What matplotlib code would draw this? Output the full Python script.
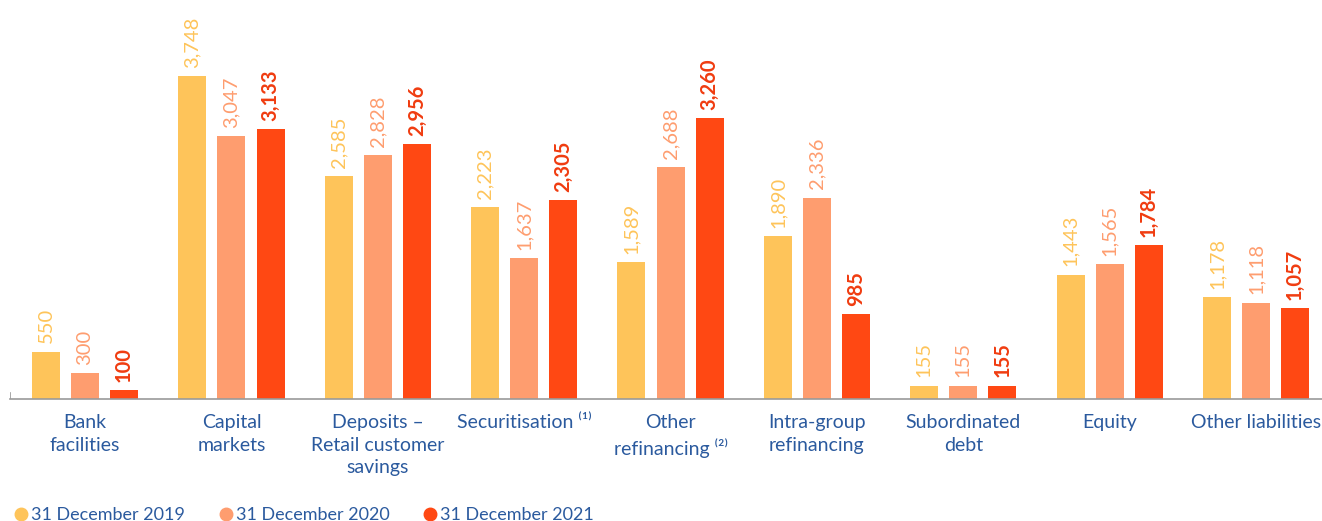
import numpy as np
import matplotlib
matplotlib.use("Agg")
import matplotlib.pyplot as plt
from matplotlib.lines import Line2D

categories = ["Bank\nfacilities", "Capital\nmarkets", "Deposits –\nRetail customer\nsavings",
              "Securitisation ⁽¹⁾", "Other\nrefinancing ⁽²⁾", "Intra-group\nrefinancing",
              "Subordinated\ndebt", "Equity", "Other liabilities"]
series_names = ["31 December 2019", "31 December 2020", "31 December 2021"]
v2019 = [550, 3748, 2585, 2223, 1589, 1890, 155, 1443, 1178]
v2020 = [300, 3047, 2828, 1637, 2688, 2336, 155, 1565, 1118]
v2021 = [100, 3133, 2956, 2305, 3260, 985, 155, 1784, 1057]

colors = ["#FEC45A", "#FE9D6F", "#FF4813"]
label_colors = ["#FEC45A", "#FE9D6F", "#F03C10"]
text_blue = "#2B5A9E"

plt.rcParams["font.family"] = ["Lato", "DejaVu Sans"]

fig = plt.figure(figsize=(13.22, 5.21), dpi=100)
ax = fig.add_axes([10 / 1322, 122 / 521, 1 - 10 / 1322, 399 / 521])

x = np.arange(len(categories))
w = 0.191
step = 0.267
for k, vals in enumerate([v2019, v2020, v2021]):
    pos = x + (k - 1) * step
    ax.bar(pos, vals, width=w, color=colors[k], zorder=2)
    for p, v in zip(pos, vals):
        ax.annotate(f"{v:,}", (p, v), xytext=(0, 6), textcoords="offset points",
                    rotation=90, ha="center", va="bottom", fontsize=14.5,
                    color=label_colors[k],
                    fontweight="bold" if k == 2 else "normal")

ax.set_xlim(-0.513, 8.451)
ax.set_ylim(0, 4629)
for s in ["top", "right", "left"]:
    ax.spines[s].set_visible(False)
ax.spines["bottom"].set_color("#9a9a9a")
ax.spines["bottom"].set_linewidth(1.2)
ax.axvline(-0.513, ymin=0, ymax=0.015, color="#9a9a9a", lw=1.2)
ax.set_yticks([])
ax.set_xticks(x)
ax.set_xticklabels(categories, fontsize=14, color=text_blue,
                   linespacing=1.38)
ax.tick_params(axis="x", length=0, pad=11)

handles = [Line2D([], [], marker="o", ls="", color=c, markersize=9) for c in colors]
leg = fig.legend(handles, series_names, loc="lower left", bbox_to_anchor=(-0.003, -0.035),
                 ncol=3, frameon=False, fontsize=13, handletextpad=0.05,
                 columnspacing=1.75, handlelength=1.0)
for t in leg.get_texts():
    t.set_color(text_blue)

fig.savefig("out.png", dpi=100)
